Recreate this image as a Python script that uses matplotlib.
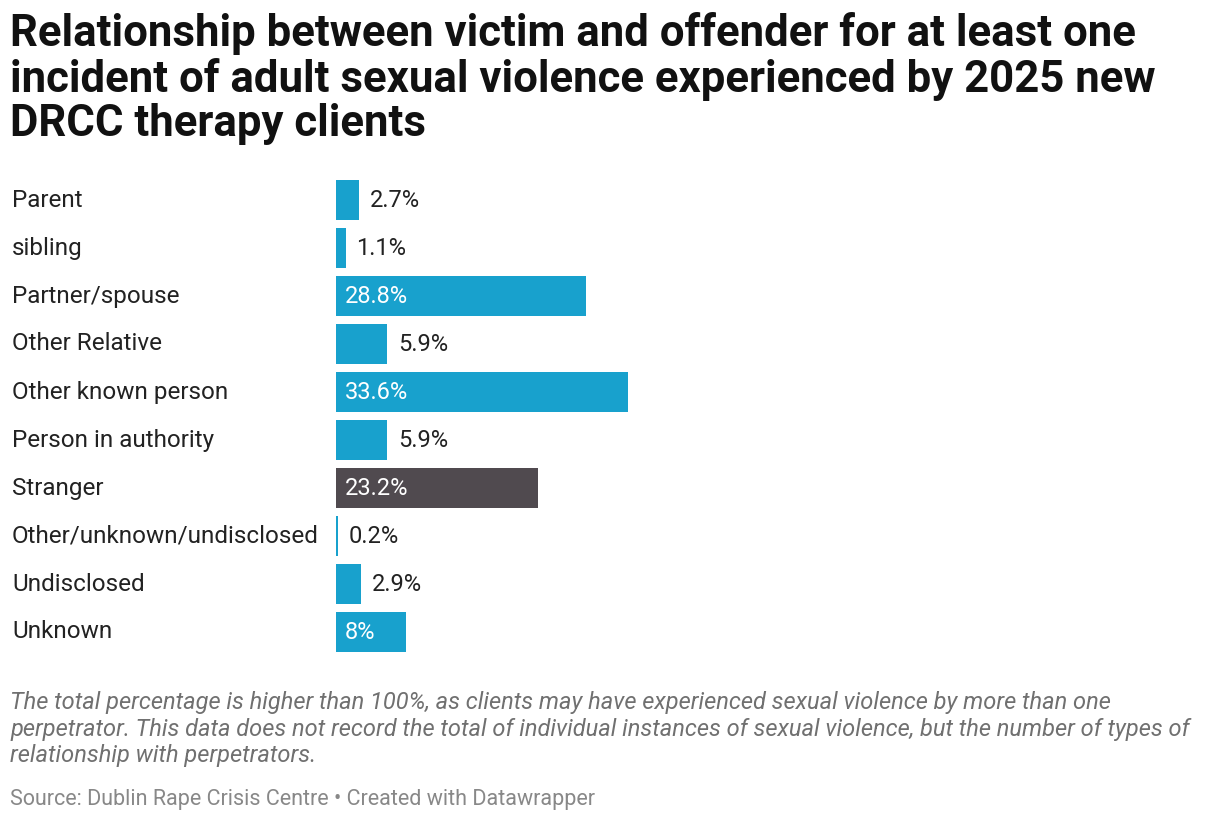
import matplotlib
matplotlib.use("Agg")
import matplotlib.pyplot as plt

categories = ["Parent", "sibling", "Partner/spouse", "Other Relative", "Other known person",
              "Person in authority", "Stranger", "Other/unknown/undisclosed", "Undisclosed", "Unknown"]
values = [2.7, 1.1, 28.8, 5.9, 33.6, 5.9, 23.2, 0.2, 2.9, 8]
labels = ["2.7%", "1.1%", "28.8%", "5.9%", "33.6%", "5.9%", "23.2%", "0.2%", "2.9%", "8%"]
highlight = "Stranger"

plt.rcParams['font.family'] = ['Roboto', 'DejaVu Sans']
W, H = 1220, 822
fig = plt.figure(figsize=(W/100, H/100), dpi=100)
ax = fig.add_axes([336/W, 1-656/H, 869/W, 480/H])
colors = ["#504a4f" if c == highlight else "#18a1cd" for c in categories]
ys = list(range(len(categories)))
ax.barh(ys, values, height=40/48, color=colors)
ax.set_xlim(0, 100)
ax.set_ylim(len(categories)-0.5, -0.5)
ax.axis("off")
for y, v, l, c in zip(ys, values, labels, categories):
    if v >= 7:
        ax.text(1.0, y, l, color="white", fontsize=17, va="center", ha="left")
    else:
        ax.text(v + 1.2, y, l, color="#222222", fontsize=17, va="center", ha="left")
    fig.text(12/W, 1-(200+48*y)/H, c, color="#222222", fontsize=17.5, va="center", ha="left")

fig.text(10/W, 1-12/H, "Relationship between victim and offender for at least one\nincident of adult sexual violence experienced by 2025 new\nDRCC therapy clients",
         fontsize=31.5, fontweight="bold", color="#111111", va="top", ha="left", linespacing=1.08)
fig.text(10/W, 1-691/H, "The total percentage is higher than 100%, as clients may have experienced sexual violence by more than one\nperpetrator. This data does not record the total of individual instances of sexual violence, but the number of types of\nrelationship with perpetrators.",
         fontsize=17, fontstyle="italic", color="#707070", va="top", ha="left", linespacing=1.2)
fig.text(10/W, 1-799/H, "Source: Dublin Rape Crisis Centre • Created with Datawrapper",
         fontsize=15.5, color="#888888", va="center", ha="left")
fig.savefig("out.png", dpi=100, facecolor="white")
